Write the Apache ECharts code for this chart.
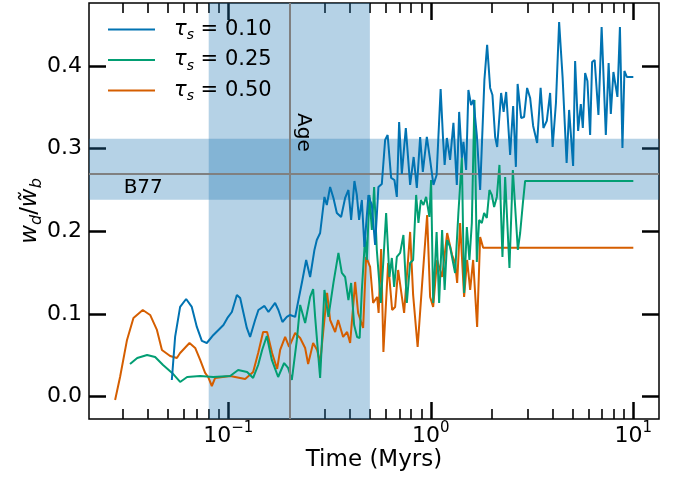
<!DOCTYPE html>
<html>
<head>
<meta charset="utf-8">
<script src="https://cdn.jsdelivr.net/npm/echarts/dist/echarts.min.js"></script>
<style>html,body{margin:0;padding:0;background:#fff}#chart{width:688px;height:482px}</style>
</head>
<body>
<div id="chart"></div>
<script>
// ---------- data ----------
const tauLabels = ['0.10', '0.25', '0.50'];
const seriesNames = ['τs = 0.10', 'τs = 0.25', 'τs = 0.50'];

const tBlue = [
  0.0526,0.0546,0.0578,0.0619,0.0660,0.0699,0.0740,0.0783,0.0844,0.0894,
  0.0946,0.0990,0.1041,0.1102,0.1144,0.1188,0.1234,0.1281,0.1356,0.1408,
  0.1508,0.1578,0.1702,0.1767,0.1850,0.1945,0.2020,0.2138,0.2220,0.2322,
  0.2423,0.2535,0.2662,0.2735,0.2840,0.2983,0.3064,0.3182,0.3304,0.3434,
  0.3606,0.3774,0.3918,0.4041,0.4195,0.4311,0.4424,0.4564,0.4700,0.4919,
  0.5112,0.5308,0.5510,0.5728,0.5947,0.6119,0.6368,0.6610,0.6794,0.6974,
  0.7191,0.7525,0.7903,0.8225,0.8529,0.8856,0.9131,0.9555,0.992,1.030,
  1.068,1.118,1.150,1.170,1.200,1.245,1.293,1.344,1.380,1.423,
  1.449,1.494,1.533,1.581,1.623,1.687,1.752,1.839,1.897,1.963,
  2.015,2.078,2.126,2.224,2.288,2.355,2.464,2.550,2.630,2.683,
  2.792,2.888,2.989,3.093,3.201,3.349,3.485,3.597,3.739,3.882,
  3.995,4.148,4.301,4.476,4.684,4.819,5.043,5.159,5.338,5.504,
  5.631,5.781,5.934,6.119,6.259,6.441,6.725,6.974,7.315,7.551,
  7.743,7.974,8.346,8.587,8.836,9.036,9.287,10.0
];
const wBlue = [
  0.0202,0.0722,0.1085,0.1181,0.1085,0.0843,0.0674,0.0649,0.0746,0.0807,
  0.0867,0.0952,0.1024,0.1230,0.1193,0.1012,0.0831,0.0722,0.0927,0.1048,
  0.1097,0.1024,0.1133,0.1048,0.0903,0.0964,0.0988,0.0964,0.1169,0.1411,
  0.1653,0.1447,0.1774,0.1895,0.1979,0.2415,0.2318,0.2536,0.2403,0.2221,
  0.2173,0.2403,0.2499,0.2137,0.2608,0.2439,0.2137,0.2378,0.1810,0.2439,
  0.2318,0.1834,0.2536,0.2572,0.3104,0.3164,0.2645,0.2620,0.2415,0.3322,
  0.2693,0.3249,0.2560,0.2898,0.2524,0.3140,0.2717,0.3140,0.2862,0.2560,
  0.2681,0.3721,0.3104,0.2802,0.3128,0.2862,0.3310,0.2560,0.3443,0.2886,
  0.3080,0.2741,0.3709,0.3527,0.3588,0.3164,0.2499,0.3830,0.4253,0.3733,
  0.3648,0.3140,0.3019,0.3672,0.3443,0.3684,0.2923,0.3515,0.2778,0.3781,
  0.3370,0.3382,0.3733,0.3612,0.3273,0.3068,0.3733,0.3249,0.3334,0.3672,
  0.3019,0.3551,0.4531,0.3854,0.2826,0.3467,0.2790,0.4059,0.3213,0.3539,
  0.3249,0.3914,0.3817,0.3164,0.4047,0.4071,0.3406,0.4470,0.3164,0.4035,
  0.3418,0.3926,0.3624,0.4470,0.3007,0.3938,0.3866,0.3866
];

const tGreen = [
  0.0327,0.0355,0.0397,0.0435,0.0476,0.0528,0.0578,0.0626,0.0726,0.0841,
  0.1021,0.1118,0.1238,0.1326,0.1404,0.1469,0.1549,0.1640,0.1762,0.1886,
  0.1973,0.2059,0.2180,0.2263,0.2395,0.2535,0.2623,0.2683,0.2840,0.2983,
  0.3121,0.3304,0.3497,0.3635,0.3774,0.3918,0.4041,0.4181,0.4325,0.4451,
  0.4564,0.4738,0.4831,0.4975,0.5112,0.5248,0.5411,0.5663,0.5833,0.6016,
  0.6246,0.6419,0.6589,0.6794,0.7054,0.7323,0.7612,0.7903,0.8177,0.8461,
  0.8686,0.8926,0.9194,0.9480,0.984,1.003,1.027,1.068,1.099,1.137,
  1.170,1.204,1.245,1.318,1.368,1.423,1.460,1.506,1.551,1.594,
  1.642,1.687,1.732,1.786,1.833,1.890,1.947,2.001,2.054,2.118,
  2.182,2.258,2.328,2.445,2.541,2.609,2.690,2.761,2.847,2.922,
  10.0
];
const wGreen = [
  0.0395,0.0468,0.0504,0.0480,0.0383,0.0287,0.0178,0.0238,0.0250,0.0238,
  0.0250,0.0323,0.0299,0.0226,0.0383,0.0565,0.0734,0.0444,0.0238,0.0407,
  0.0347,0.0202,0.0686,0.1109,0.0891,0.1206,0.1302,0.0964,0.0226,0.1290,
  0.0964,0.1375,0.1738,0.1496,0.1447,0.1169,0.1375,0.0867,0.0722,0.0710,
  0.1290,0.1931,0.1653,0.2439,0.2016,0.2536,0.1774,0.1133,0.1653,0.2221,
  0.1447,0.1677,0.1326,0.1689,0.1738,0.1955,0.1133,0.1617,0.1653,0.2439,
  0.2100,0.2378,0.2318,0.2415,0.2173,0.2620,0.1133,0.1992,0.1133,0.2016,
  0.1290,0.1895,0.1810,0.1496,0.2221,0.2886,0.1254,0.2052,0.1653,0.2100,
  0.3588,0.1629,0.2136,0.2100,0.2221,0.2160,0.2499,0.2439,0.2294,0.2415,
  0.2802,0.1689,0.2657,0.1556,0.2741,0.2294,0.1774,0.1979,0.2334,0.2609,
  0.2609
];

const tOrange = [
  0.0276,0.0292,0.0316,0.0340,0.0378,0.0411,0.0444,0.0470,0.0516,0.0557,
  0.0578,0.0643,0.0686,0.0726,0.0768,0.0795,0.0829,0.0861,0.1021,0.1211,
  0.1326,0.1404,0.1485,0.1554,0.1645,0.1742,0.1803,0.1908,0.1996,0.2138,
  0.2263,0.2395,0.2478,0.2623,0.2745,0.2840,0.2938,0.3075,0.3182,0.3369,
  0.3485,0.3689,0.3861,0.3995,0.4229,0.4375,0.4632,0.4792,0.5014,0.5189,
  0.5430,0.5523,0.5683,0.5833,0.6153,0.6441,0.6664,0.6895,0.7381,0.7903,
  0.8177,0.8607,0.9057,0.9588,0.992,1.027,1.074,1.137,1.204,1.274,
  1.318,1.349,1.395,1.460,1.511,1.564,1.618,1.693,1.752,1.813,
  10.0
];
const wOrange = [
  -0.004,0.0238,0.0686,0.0952,0.1048,0.0988,0.0807,0.0565,0.0492,0.0468,
  0.0528,0.0649,0.0589,0.0444,0.0287,0.0238,0.0129,0.0226,0.0250,0.0214,
  0.0299,0.0528,0.0782,0.0782,0.0528,0.0335,0.0565,0.0722,0.0601,0.0770,
  0.0710,0.0589,0.0395,0.0649,0.0565,0.0407,0.0770,0.1254,0.0927,0.0782,
  0.0927,0.0722,0.0782,0.0649,0.1387,0.1012,0.0831,0.1689,0.1568,0.1133,
  0.1206,0.1012,0.1786,0.0540,0.1617,0.1048,0.1085,0.1532,0.1012,0.1992,
  0.1230,0.0601,0.1363,0.2197,0.1206,0.1085,0.1653,0.1447,0.1979,0.1713,
  0.1617,0.1375,0.2100,0.1206,0.1653,0.1290,0.1653,0.0843,0.1931,0.180,
  0.180
];

// reference regions / annotations (data units)
const ageLine = 0.2;
const ageBand = [0.08, 0.5];
const b77Line = 0.27;
const b77Band = [0.238, 0.312];
const ageLabelAt = [0.234, 0.3195];
const b77LabelAt = [0.038, 0.252];

// axes
const xMin = 0.02051, xMax = 13.39;
const yMin = -0.027, yMax = 0.476;
const xMajorTicks = [0.1, 1, 10];
const xMajorExponents = ['−1', '0', '1'];
const xMinorTicks = [0.03,0.04,0.05,0.06,0.07,0.08,0.09,
                     0.2,0.3,0.4,0.5,0.6,0.7,0.8,0.9,
                     2,3,4,5,6,7,8,9];
const yTicks = [0, 0.1, 0.2, 0.3, 0.4];

// ---------- chart ----------
const FONT = 'DejaVu Sans';
const colors = ['#0173b2', '#029e73', '#d55e00'];
const zip = (t, w) => t.map((v, i) => [v, w[i]]);

const baseX = (pos) => ({
  type: 'log', logBase: 10, min: xMin, max: xMax, position: pos,
  axisLine: { show: false, onZero: false }, splitLine: { show: false }, minorTick: { show: false }
});
const baseY = (pos) => ({
  type: 'value', min: yMin, max: yMax, position: pos,
  axisLine: { show: false, onZero: false }, splitLine: { show: false }
});
const majorTick = { show: true, inside: true, length: 17, customValues: xMajorTicks,
  lineStyle: { color: '#000', width: 2.5 } };
const minorTickX = { show: true, inside: true, length: 10, customValues: xMinorTicks,
  lineStyle: { color: '#000', width: 1.6 } };
const yTick = { show: true, inside: true, length: 17, customValues: yTicks,
  lineStyle: { color: '#000', width: 2.5 } };

const expFor = (v) => {
  let best = 0;
  xMajorTicks.forEach((m, i) => { if (Math.abs(Math.log10(v) - Math.log10(m)) < 0.01) best = i; });
  return xMajorExponents[best];
};

const chart = echarts.init(document.getElementById('chart'), null, { renderer: 'canvas' });
const option = {
  animation: false,
  textStyle: { fontFamily: FONT, color: '#000' },
  grid: { left: 89, top: 3, width: 570, height: 416, show: true,
          borderColor: '#000', borderWidth: 1.5, backgroundColor: 'transparent' },
  legend: {
    left: 108, top: 19, padding: 0, orient: 'vertical', itemGap: 7,
    itemWidth: 47, itemHeight: 2, icon: 'rect',
    data: seriesNames,
    formatter: (name) => '{t|τ}{s|s}{n| = ' + tauLabels[seriesNames.indexOf(name)] + '}',
    textStyle: {
      fontFamily: FONT, color: '#000',
      rich: {
        t: { fontFamily: FONT, fontStyle: 'italic', fontSize: 21, lineHeight: 26, padding: [0, 0, 0, 14] },
        s: { fontFamily: FONT, fontStyle: 'italic', fontSize: 14, lineHeight: 14, verticalAlign: 'bottom' },
        n: { fontFamily: FONT, fontSize: 21, lineHeight: 26 }
      }
    }
  },
  xAxis: [
    Object.assign(baseX('bottom'), {
      axisTick: majorTick,
      axisLabel: {
        customValues: xMajorTicks, margin: 2, color: '#000',
        formatter: (v) => '{b|10}{p|' + expFor(v) + '}',
        rich: {
          b: { fontFamily: FONT, fontSize: 22, lineHeight: 30, color: '#000' },
          p: { fontFamily: FONT, fontSize: 15, lineHeight: 15, verticalAlign: 'top', color: '#000' }
        }
      },
      name: 'Time (Myrs)', nameLocation: 'middle', nameGap: 30, nameMoveOverlap: false,
      nameTextStyle: { fontFamily: FONT, fontSize: 23, color: '#000' }
    }),
    Object.assign(baseX('bottom'), { axisTick: minorTickX, axisLabel: { show: false } }),
    Object.assign(baseX('top'), { axisTick: majorTick, axisLabel: { show: false } }),
    Object.assign(baseX('top'), { axisTick: minorTickX, axisLabel: { show: false } })
  ],
  yAxis: [
    Object.assign(baseY('left'), {
      axisTick: yTick,
      axisLabel: { customValues: yTicks, margin: 7, color: '#000', fontFamily: FONT, fontSize: 22,
                   formatter: (v) => v.toFixed(1) },
      name: '{i|w}{s|d}{r|/}{i|w̃}{s|b}', nameLocation: 'middle', nameGap: 44, nameRotate: 90,
      nameMoveOverlap: false,
      nameTextStyle: {
        fontFamily: FONT, fontSize: 23, color: '#000',
        rich: {
          i: { fontFamily: FONT, fontStyle: 'italic', fontSize: 23, lineHeight: 30 },
          r: { fontFamily: FONT, fontSize: 23, lineHeight: 30 },
          s: { fontFamily: FONT, fontStyle: 'italic', fontSize: 16, lineHeight: 16, verticalAlign: 'bottom' }
        }
      }
    }),
    Object.assign(baseY('right'), { axisTick: yTick, axisLabel: { show: false } })
  ],
  series: [
    {
      name: seriesNames[0], type: 'line', data: zip(tBlue, wBlue),
      showSymbol: false, symbol: 'none', color: colors[0],
      lineStyle: { width: 2, color: colors[0] }, z: 5,
      markArea: {
        silent: true, itemStyle: { color: 'rgba(31,119,180,0.33)' },
        data: [
          [{ xAxis: ageBand[0] }, { xAxis: ageBand[1] }],
          [{ yAxis: b77Band[0] }, { yAxis: b77Band[1] }]
        ]
      },
      markLine: {
        silent: true, symbol: 'none', label: { show: false },
        lineStyle: { color: '#808080', width: 2, type: 'solid' },
        data: [{ xAxis: ageLine }, { yAxis: b77Line }]
      },
      markPoint: {
        silent: true, symbol: 'circle', symbolSize: 0,
        data: [
          { coord: ageLabelAt, label: { show: true, formatter: 'Age', rotate: -90, position: 'inside',
              color: '#000', fontFamily: FONT, fontSize: 20 } },
          { coord: b77LabelAt, label: { show: true, formatter: 'B77', position: 'inside',
              color: '#000', fontFamily: FONT, fontSize: 20 } }
        ]
      }
    },
    {
      name: seriesNames[1], type: 'line', data: zip(tGreen, wGreen),
      showSymbol: false, symbol: 'none', color: colors[1],
      lineStyle: { width: 2, color: colors[1] }, z: 4
    },
    {
      name: seriesNames[2], type: 'line', data: zip(tOrange, wOrange),
      showSymbol: false, symbol: 'none', color: colors[2],
      lineStyle: { width: 2, color: colors[2] }, z: 3
    }
  ]
};
chart.setOption(option);
</script>
</body>
</html>
